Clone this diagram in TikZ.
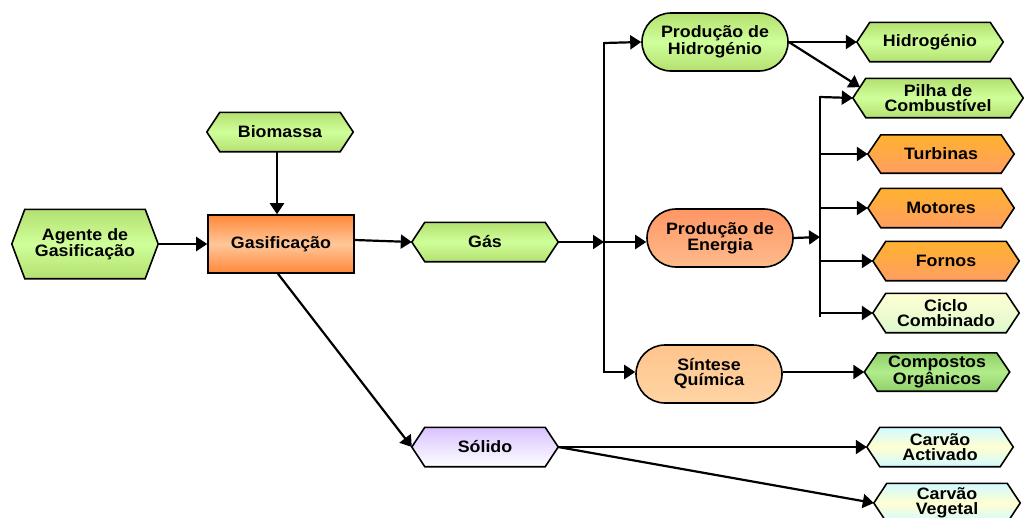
\documentclass[tikz,border=0pt]{standalone}
\usepackage{fontspec}
\setmainfont{Liberation Sans}[FakeStretch=1.08]
\usetikzlibrary{arrows.meta,backgrounds,calc}

% fills
\definecolor{grA}{HTML}{B4E070}
\definecolor{grB}{HTML}{CFFF9A}
\definecolor{dgA}{HTML}{8FD06A}
\definecolor{dgB}{HTML}{B2EC8C}
\definecolor{orA}{HTML}{FFB22E}
\definecolor{orB}{HTML}{FF9E62}
\definecolor{gzA}{HTML}{FF8838}
\definecolor{gzB}{HTML}{FFC79A}
\definecolor{enA}{HTML}{FF9664}
\definecolor{enB}{HTML}{FFBA8C}
\definecolor{sqA}{HTML}{FFC48C}
\definecolor{sqB}{HTML}{FFD4A4}
\definecolor{cyA}{HTML}{D2FAFF}
\definecolor{cyB}{HTML}{FFFFD2}
\definecolor{ccA}{HTML}{FFFFD4}
\definecolor{ccB}{HTML}{DDF8CC}
\definecolor{lvA}{HTML}{D8C2FF}

\def\hexin{13pt}
% hexagonal outline behind a named text node
\newcommand\hexat[2]{\path[outline,#2] (#1.west) -- ([xshift=\hexin]#1.north west) -- ([xshift=-\hexin]#1.north east) -- (#1.east) -- ([xshift=-\hexin]#1.south east) -- ([xshift=\hexin]#1.south west) -- cycle;}

\tikzset{
  lbl/.style={inner sep=0pt, align=center, font=\fontsize{16.5}{15}\selectfont\bfseries},
  hexbox/.style={lbl, minimum width=146pt, minimum height=39pt},
  outline/.style={draw=black, line width=1.6pt, line join=miter},
  stadium/.style={lbl, outline, rounded corners=29pt, minimum width=146pt, minimum height=58pt},
  greenfill/.style={top color=grA, bottom color=grA, middle color=grB},
  dgreenfill/.style={top color=dgA, bottom color=dgA, middle color=dgB},
  orangefill/.style={top color=orA, bottom color=orB},
  cyanfill/.style={top color=cyA, bottom color=cyA, middle color=cyB},
  ciclofill/.style={top color=ccA, bottom color=ccB},
  lavfill/.style={top color=lvA, bottom color=white},
  arr/.style={line width=2.2pt, -{Triangle[length=11pt,width=14pt]}},
  bus/.style={line width=2.2pt, line cap=rect},
}

\begin{document}
\begin{tikzpicture}[x=1pt,y=-1pt]
\useasboundingbox (0,0) rectangle (1024,517);

% left side
\node[hexbox, minimum height=69pt] (agente) at (85,244) {Agente de\\Gasificação};
\node[hexbox] (bio) at (280,132) {Biomassa};
\node[lbl, outline, minimum width=146pt, minimum height=58pt,
      top color=gzA, bottom color=gzA, middle color=gzB] (gasif) at (281,244) {Gasificação};
\node[hexbox] (gas) at (485,242) {Gás};
\node[hexbox] (solido) at (485,447) {Sólido};

% processes
\node[stadium, greenfill] (ph) at (715,42) {Produção de\\Hidrogénio};
\node[stadium, top color=enA, bottom color=enB] (pe) at (720,238) {Produção de\\Energia};
\node[stadium, top color=sqA, bottom color=sqB] (sq) at (709,374) {Síntese\\Química};

% products
\node[hexbox] (hid) at (930,42) {Hidrogénio};
\node[hexbox, minimum width=170pt] (pilha) at (938,98) {Pilha de\\Combustível};
\node[hexbox, minimum height=38pt] (turb) at (941,154) {Turbinas};
\node[hexbox] (mot) at (941,208) {Motores};
\node[hexbox] (fornos) at (946,261) {Fornos};
\node[hexbox] (ciclo) at (946,313) {Ciclo\\Combinado};
\node[hexbox, minimum width=145pt, minimum height=38pt] (comp) at (937,372) {Compostos\\Orgânicos};
\node[hexbox] (cact) at (940,447) {Carvão\\Activado};
\node[hexbox] (cveg) at (947,503) {Carvão\\Vegetal};

\begin{scope}[on background layer]
  \hexat{agente}{greenfill}
  \hexat{bio}{greenfill}
  \hexat{gas}{greenfill}
  \hexat{solido}{lavfill}
  \hexat{hid}{greenfill}
  \hexat{pilha}{greenfill}
  \hexat{turb}{orangefill}
  \hexat{mot}{orangefill}
  \hexat{fornos}{orangefill}
  \hexat{ciclo}{ciclofill}
  \hexat{comp}{dgreenfill}
  \hexat{cact}{cyanfill}
  \hexat{cveg}{cyanfill}
\end{scope}

% bus lines
\coordinate (jt) at (604,43);
\coordinate (jm) at (604,242);
\coordinate (jb) at (604,372);
\coordinate (kt) at (820,97);
\coordinate (km) at (820,237);
\coordinate (kb) at (820,316);
\draw[bus] (jt) -- (jb);
\draw[bus] (kt) -- (kb);

% connectors
\draw[arr] (agente.east) -- (gasif.west);
\draw[arr] ([xshift=-3pt]bio.south) -- ([xshift=-3pt]bio.south |- gasif.north);
\draw[arr] ([yshift=4pt]gasif.east) -- (gas.west);
\draw[arr] ([xshift=-3pt]gasif.south) -- (solido.west);
\draw[arr] (gas.east) -- (jm);

\draw[arr] (jt) -- (ph.west);
\draw[arr] (jm) -- (pe.west |- jm);
\draw[arr] (jb) -- (sq.west |- jb);

\draw[arr] (ph.east) -- (hid.west);
\draw[arr] (ph.east) -- ($(pilha.west)!0.55!([xshift=\hexin]pilha.north west)$);

\draw[arr] (pe.east) -- (km);
\draw[arr] (kt) -- (pilha.west);
\draw[arr] (kt |- turb.west) -- (turb.west);
\draw[arr] (kt |- mot.west) -- (mot.west);
\draw[arr] (kt |- fornos.west) -- (fornos.west);
\draw[arr] (kt |- ciclo.west) -- (ciclo.west);

\draw[arr] (sq.east |- comp.west) -- (comp.west);
\draw[arr] (solido.east) -- (cact.west);
\draw[arr] (solido.east) -- (cveg.west);
\end{tikzpicture}
\end{document}
